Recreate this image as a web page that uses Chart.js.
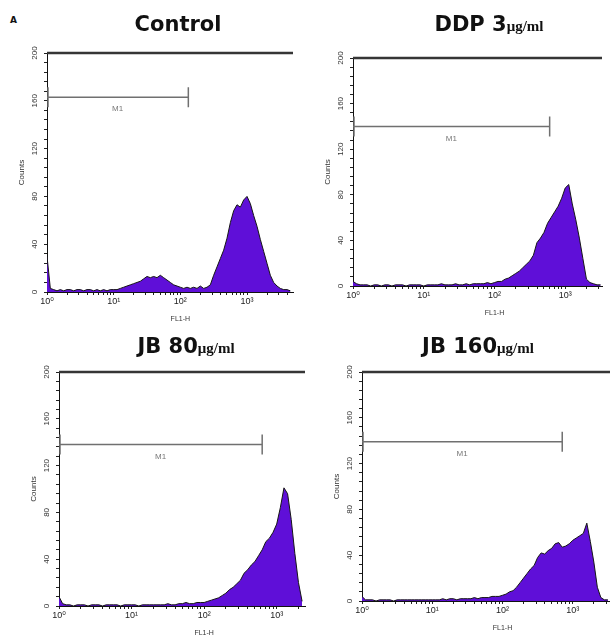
<!DOCTYPE html>
<html>
<head>
<meta charset="utf-8">
<title>FL1-H histograms</title>
<script src="https://cdn.jsdelivr.net/npm/chart.js@4.4.1/dist/chart.umd.min.js"></script>
<style>
    html, body { margin: 0; padding: 0; background: #fff; }
    #wrap { position: relative; width: 610px; height: 637px; overflow: hidden; }
    #wrap canvas { position: absolute; left: 0; top: 0; }
    .panel-title {
        position: absolute;
        transform: translate(-50%, -50%);
        white-space: nowrap;
        line-height: 1;
        color: #111;
        font: bold 21px "DejaVu Sans", sans-serif;
    }
    .panel-title .unit { font: bold 15px "Liberation Serif", serif; }
    .panel-tag {
        position: absolute; left: 10px; top: 15px;
        font: bold 9px "DejaVu Sans", sans-serif; color: #111;
    }
</style>
</head>
<body>
<div id="wrap">
    <span class="panel-tag">A</span>
</div>
<script>
(function() {
    'use strict';

    // histogram bin width along FL1-H, in decades (log10 units)
    const BIN = 0.05;

    // counts per bin
    const controlCounts = [
        30, 3, 2, 1, 2, 1, 2, 2, 1, 2,
        2, 1, 2, 2, 1, 2, 1, 2, 1, 2,
        2, 2, 3, 4, 5, 6, 7, 8, 9, 11,
        13, 12, 13, 12, 14, 12, 10, 8, 6, 5,
        4, 3, 4, 3, 4, 3, 5, 3, 4, 6,
        14, 21, 28, 35, 45, 58, 68, 73, 71, 77,
        80, 74, 64, 55, 44, 34, 24, 14, 8, 5,
        3, 2, 2, 1
    ];
    const ddpCounts = [
        4, 2, 1, 1, 1, 0, 1, 1, 0, 1,
        1, 0, 1, 1, 1, 0, 1, 1, 1, 1,
        0, 1, 1, 1, 1, 2, 1, 1, 1, 2,
        1, 1, 2, 1, 2, 2, 2, 2, 3, 2,
        3, 4, 4, 6, 7, 9, 11, 13, 16, 19,
        22, 27, 38, 42, 47, 55, 60, 65, 70, 77,
        86, 89, 72, 58, 42, 24, 6, 3, 2, 1,
        1
    ];
    const jb80Counts = [
        8, 2, 1, 1, 0, 1, 1, 1, 0, 1,
        1, 1, 0, 1, 1, 1, 1, 0, 1, 1,
        1, 1, 0, 1, 1, 1, 1, 1, 1, 1,
        2, 1, 1, 2, 2, 3, 2, 2, 3, 3,
        3, 4, 5, 6, 7, 9, 11, 14, 16, 19,
        22, 28, 31, 35, 38, 43, 48, 55, 58, 63,
        70, 84, 101, 96, 74, 45, 20, 4
    ];
    const jb160Counts = [
        4, 1, 1, 1, 0, 1, 1, 1, 1, 0,
        1, 1, 1, 1, 1, 1, 1, 1, 1, 1,
        1, 1, 1, 2, 1, 2, 2, 1, 2, 2,
        2, 2, 3, 2, 3, 3, 3, 4, 4, 4,
        5, 6, 8, 9, 12, 16, 20, 24, 28, 31,
        38, 42, 41, 44, 46, 50, 51, 47, 48, 50,
        53, 55, 57, 59, 68, 52, 34, 12, 3, 1,
        1
    ];

    const panelNames = ['Control', 'DDP 3', 'JB 80', 'JB 160'];
    const panelUnits = ['', 'μg/ml', 'μg/ml', 'μg/ml'];

    // M1 gate: start / end in decades, height in counts
    const m1Start = [0, 0, 0, 0];
    const m1End = [2.12, 2.78, 2.80, 2.85];
    const m1Level = [163, 140, 138, 139];

    // visible part of the FL1-H axis in each panel (decades)
    const axisMax = [3.69, 3.52, 3.39, 3.53];

    const countTicks = [0, 40, 80, 120, 160, 200];
    const decadeLabels = ['10⁰', '10¹', '10²', '10³'];

    const allCounts = [controlCounts, ddpCounts, jb80Counts, jb160Counts];

    // page layout (pixels): plot box of each panel and where its title sits
    const PAGE_W = 610, PAGE_H = 637;
    const Y_AXIS_W = 30, X_AXIS_H = 30;
    const boxes = [
        { left: 47, top: 53, right: 293, bottom: 292, titleX: 178, titleY: 24 },
        { left: 353, top: 58, right: 602, bottom: 286, titleX: 489, titleY: 24 },
        { left: 59, top: 372, right: 305, bottom: 606, titleX: 186, titleY: 346 },
        { left: 362, top: 372, right: 610, bottom: 601, titleX: 478, titleY: 346 }
    ];

    const FILL = '#5f0fd8';
    const TICK_FONT = '"Liberation Sans", "DejaVu Sans", sans-serif';

    /**
     * Top frame line, M1 gate and the FL1-H caption
     */
    const gatePlugin = {
        id: 'gateMarks',
        afterDatasetsDraw(chart, args, opts) {
            const { ctx, chartArea } = chart;
            const x = chart.scales.x;
            const y = chart.scales.y;

            ctx.save();

            const yTop = y.getPixelForValue(countTicks[countTicks.length - 1]);
            ctx.strokeStyle = '#363636';
            ctx.lineWidth = 2.5;
            ctx.beginPath();
            ctx.moveTo(chartArea.left, yTop);
            ctx.lineTo(chartArea.right, yTop);
            ctx.stroke();

            const x0 = x.getPixelForValue(opts.start);
            const x1 = x.getPixelForValue(opts.end);
            const yy = y.getPixelForValue(opts.level);
            ctx.strokeStyle = '#707070';
            ctx.lineWidth = 1.5;
            ctx.beginPath();
            ctx.moveTo(x0, yy);
            ctx.lineTo(x1, yy);
            ctx.moveTo(x0 + 1, yy - 10);
            ctx.lineTo(x0 + 1, yy + 10);
            ctx.moveTo(x1, yy - 10);
            ctx.lineTo(x1, yy + 10);
            ctx.stroke();

            ctx.fillStyle = '#777';
            ctx.font = '8px ' + TICK_FONT;
            ctx.textAlign = 'center';
            ctx.textBaseline = 'middle';
            ctx.fillText('M1', (x0 + x1) / 2, yy + 12);

            ctx.fillStyle = '#333';
            ctx.font = '7px ' + TICK_FONT;
            ctx.fillText('FL1-H', x.getPixelForValue(2), chartArea.bottom + 27);

            ctx.restore();
        }
    };

    /**
     * Build one histogram panel on its own full-page canvas
     */
    function makePanel(i) {
        const wrap = document.getElementById('wrap');
        const canvas = document.createElement('canvas');
        canvas.width = PAGE_W;
        canvas.height = PAGE_H;
        wrap.appendChild(canvas);

        const box = boxes[i];
        const points = allCounts[i].map((c, k) => ({ x: k * BIN, y: c }));

        return new Chart(canvas, {
            type: 'line',
            data: {
                datasets: [{
                    data: points,
                    borderColor: '#151515',
                    borderWidth: 1,
                    backgroundColor: FILL,
                    fill: 'origin',
                    pointRadius: 0,
                    tension: 0
                }]
            },
            options: {
                responsive: false,
                animation: false,
                layout: {
                    padding: {
                        left: box.left - Y_AXIS_W,
                        top: box.top,
                        right: PAGE_W - box.right,
                        bottom: PAGE_H - box.bottom - X_AXIS_H
                    }
                },
                plugins: {
                    legend: { display: false },
                    tooltip: { enabled: false },
                    gateMarks: { start: m1Start[i], end: m1End[i], level: m1Level[i] }
                },
                scales: {
                    x: {
                        type: 'linear',
                        min: 0,
                        max: axisMax[i],
                        afterBuildTicks: function(scale) {
                            // decade ticks plus the log minor ticks 2..9
                            const ticks = [];
                            for (let n = 0; n < decadeLabels.length; n++) {
                                for (let k = 1; k <= 9; k++) {
                                    const v = n + Math.log10(k);
                                    if (v <= axisMax[i]) ticks.push({ value: v });
                                }
                            }
                            scale.ticks = ticks;
                        },
                        afterFit: function(scale) {
                            scale.height = X_AXIS_H;
                            scale.paddingLeft = 0;
                            scale.paddingRight = 0;
                        },
                        grid: {
                            drawOnChartArea: false,
                            drawTicks: true,
                            tickLength: 3,
                            tickColor: '#222'
                        },
                        border: { display: true, color: '#111', width: 1 },
                        ticks: {
                            autoSkip: false,
                            maxRotation: 0,
                            padding: 1,
                            color: '#222',
                            font: { family: TICK_FONT, size: 9 },
                            callback: function(value) {
                                return Number.isInteger(value) ? decadeLabels[value] : '';
                            }
                        }
                    },
                    y: {
                        min: countTicks[0],
                        max: countTicks[countTicks.length - 1],
                        afterFit: function(scale) {
                            scale.width = Y_AXIS_W;
                            scale.paddingTop = 0;
                            scale.paddingBottom = 0;
                        },
                        grid: {
                            drawOnChartArea: false,
                            drawTicks: true,
                            tickLength: 3,
                            tickColor: '#222'
                        },
                        border: { display: true, color: '#111', width: 1 },
                        title: {
                            display: true,
                            text: 'Counts',
                            color: '#333',
                            padding: 0,
                            font: { family: TICK_FONT, size: 8 }
                        },
                        ticks: {
                            stepSize: 8,
                            autoSkip: false,
                            minRotation: 90,
                            maxRotation: 90,
                            crossAlign: 'center',
                            padding: 3,
                            color: '#333',
                            font: { family: TICK_FONT, size: 8 },
                            callback: function(value) {
                                return countTicks.indexOf(value) >= 0 ? String(value) : '';
                            }
                        }
                    }
                }
            },
            plugins: [gatePlugin]
        });
    }

    /**
     * Panel headings, with the dose unit set in a serif face
     */
    function addTitle(i) {
        const el = document.createElement('div');
        el.className = 'panel-title';
        el.style.left = boxes[i].titleX + 'px';
        el.style.top = boxes[i].titleY + 'px';
        el.appendChild(document.createTextNode(panelNames[i]));
        if (panelUnits[i]) {
            const unit = document.createElement('span');
            unit.className = 'unit';
            unit.textContent = panelUnits[i];
            el.appendChild(unit);
        }
        document.getElementById('wrap').appendChild(el);
    }

    for (let i = 0; i < allCounts.length; i++) {
        makePanel(i);
        addTitle(i);
    }
})();
</script>
</body>
</html>
